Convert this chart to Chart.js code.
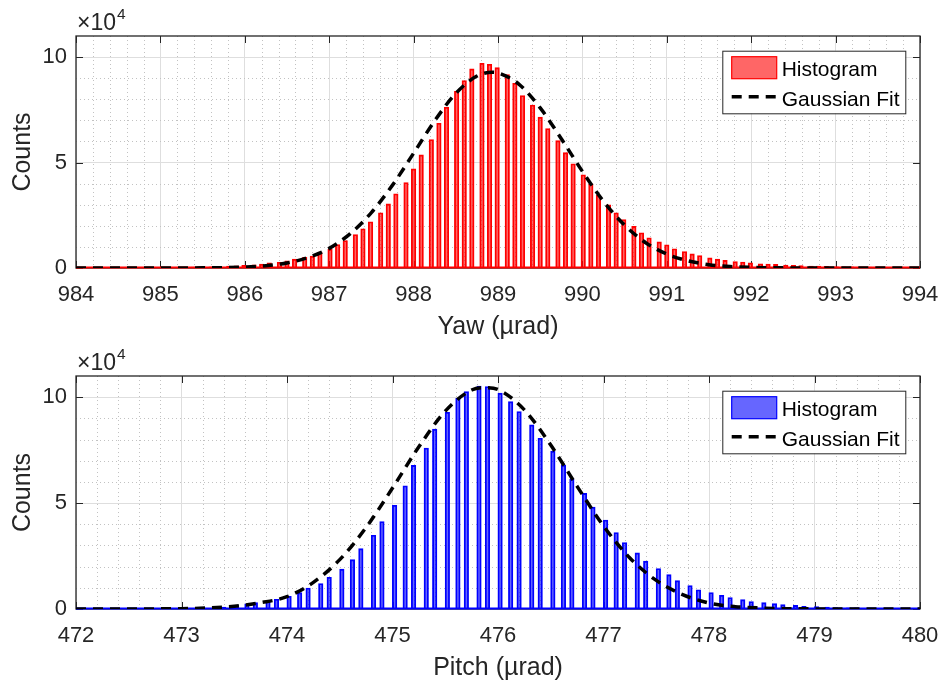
<!DOCTYPE html>
<html>
<head>
<meta charset="utf-8">
<title>Yaw / Pitch histograms</title>
<script src="https://cdn.jsdelivr.net/npm/chart.js@4.4.1/dist/chart.umd.min.js"></script>
<style>
    body { margin: 0; background: #fff; }
    canvas { display: block; }
</style>
</head>
<body>
<canvas id="yawChart" width="943" height="340"></canvas>
<canvas id="pitchChart" width="943" height="343"></canvas>
<script>
// === Yaw histogram (bin centres in µrad, counts) ===
const yawBins = [
    984.91, 985.00, 985.09, 985.21, 985.30, 985.39, 985.51, 985.60, 985.69,
    985.81, 985.90, 985.99, 986.11, 986.20, 986.29, 986.41, 986.50, 986.59,
    986.71, 986.80, 986.89, 987.01, 987.10, 987.19, 987.31, 987.40, 987.49,
    987.61, 987.70, 987.79, 987.91, 988.00, 988.09, 988.21, 988.30, 988.39,
    988.51, 988.60, 988.69, 988.81, 988.90, 988.99, 989.11, 989.20, 989.29,
    989.41, 989.50, 989.59, 989.71, 989.80, 989.89, 990.01, 990.10, 990.19,
    990.31, 990.40, 990.49, 990.61, 990.70, 990.79, 990.91, 991.00, 991.09,
    991.21, 991.30, 991.39, 991.51, 991.60, 991.69, 991.81, 991.90, 991.99,
    992.11, 992.20, 992.29, 992.41, 992.50, 992.59, 992.71, 992.80, 992.89,
    993.01, 993.10, 993.19, 993.31, 993.40, 993.49, 993.61, 993.70, 993.79,
    993.91
];
const yawCounts = [
    200, 200, 300, 300, 400, 400, 500, 600, 700,
    900, 1000, 1300, 1500, 1800, 2400, 2700, 3400, 4200,
    5100, 5600, 7500, 8900, 11100, 13000, 15900, 18600, 21900,
    26200, 30400, 35200, 40500, 47000, 53600, 60900, 68600, 76200,
    83800, 88900, 94400, 97100, 96600, 95000, 91700, 87600, 81800,
    77300, 71500, 66100, 60400, 54700, 49400, 44200, 39900, 34400,
    30000, 26200, 23000, 19700, 16700, 14300, 12400, 11000, 9100,
    7800, 6700, 5900, 4800, 4200, 3600, 3000, 2800, 2400,
    2000, 1900, 1700, 1400, 1300, 1100, 900, 900, 800,
    600, 500, 500, 400, 400, 300, 300, 200, 200,
    200
];
const yawFitX = [
    984, 985, 985.5, 986, 986.25, 986.5, 986.75, 987, 987.25, 987.5, 987.75,
    988, 988.25, 988.5, 988.75, 988.93, 989, 989.25, 989.5, 989.75, 990,
    990.25, 990.5, 990.75, 991, 991.25, 991.5, 991.75, 992, 992.5, 993, 994
];
const yawFitCounts = [
    0, 10, 65, 460, 1100, 2400, 5000, 9300, 16300, 26300, 39300,
    54400, 69800, 82800, 91000, 92800, 92500, 87100, 75900, 61300, 45800,
    31600, 20300, 12000, 6600, 3400, 1570, 690, 280, 40, 0, 0
];
const yawTicks = [984, 985, 986, 987, 988, 989, 990, 991, 992, 993, 994];

// === Pitch histogram ===
const pitchBins = [
    472.40, 472.52, 472.62, 472.70, 472.82, 472.90, 473.02, 473.12, 473.20, 473.32,
    473.40, 473.52, 473.62, 473.70, 473.82, 473.90, 474.02, 474.12, 474.20, 474.32,
    474.40, 474.52, 474.62, 474.70, 474.82, 474.90, 475.02, 475.12, 475.20, 475.32,
    475.40, 475.52, 475.62, 475.70, 475.82, 475.90, 476.02, 476.12, 476.20, 476.32,
    476.40, 476.52, 476.62, 476.70, 476.82, 476.90, 477.02, 477.12, 477.20, 477.32,
    477.40, 477.52, 477.62, 477.70, 477.82, 477.90, 478.02, 478.12, 478.20, 478.32,
    478.40, 478.52, 478.62, 478.70, 478.82, 478.90, 479.02, 479.12, 479.20, 479.32,
    479.40, 479.52, 479.62, 479.70, 479.82, 479.90
];
const pitchCounts = [
    100, 100, 100, 100, 100, 200, 300, 300, 400, 600,
    900, 1700, 2400, 3000, 3800, 4600, 6000, 7700, 9900, 12000,
    15000, 18800, 23300, 28500, 34800, 41300, 49000, 58200, 67800, 76000,
    84900, 92900, 99400, 102700, 105300, 105000, 101900, 97900, 93200, 86900,
    80600, 74500, 67900, 61300, 54600, 48100, 42000, 36100, 31400, 26500,
    22600, 19100, 16200, 13400, 11100, 9100, 7800, 6500, 5400, 4400,
    3500, 3000, 2500, 2100, 1700, 1300, 1100, 900, 700, 600,
    500, 400, 300, 300, 200, 200
];
const pitchFitX = [
    472, 472.5, 473, 473.25, 473.5, 473.75, 474, 474.25, 474.5, 474.75,
    475, 475.25, 475.5, 475.75, 475.88, 476, 476.25, 476.5, 476.75, 477,
    477.25, 477.5, 477.75, 478, 478.25, 478.5, 478.75, 479, 479.5, 480
];
const pitchFitCounts = [
    0, 14, 160, 470, 1250, 3000, 5800, 12600, 23300, 38500,
    57100, 76600, 93400, 103400, 104500, 103600, 94000, 77400, 57900, 39200,
    24100, 13500, 6800, 2800, 1100, 450, 150, 50, 0, 0
];
const pitchTicks = [472, 473, 474, 475, 476, 477, 478, 479, 480];

const countRange = [0, 110000];
const countTicks = [0, 50000, 100000];
const countScale = 1e4;

const FONT = '"Liberation Sans", Arial, Helvetica, sans-serif';
const INK = "#262626";

// Minor dotted grid, full box with inward ticks, zero line, legend and the x10^4 exponent
const matlabAxes = {
    id: "matlabAxes",
    beforeDatasetsDraw(chart, args, opts) {
        const { ctx, chartArea: a, scales: { x, y } } = chart;
        ctx.save();

        // minor grid: 5 divisions per major step on both axes
        ctx.strokeStyle = "#c2c2c2";
        ctx.lineWidth = 1;
        ctx.setLineDash([1, 3]);
        const nx = Math.round((x.max - x.min) / opts.xMinor);
        for (let i = 1; i < nx; i++) {
            if (i % 5 === 0) continue;
            const px = Math.round(x.getPixelForValue(x.min + i * opts.xMinor)) + 0.5;
            ctx.beginPath(); ctx.moveTo(px, a.top); ctx.lineTo(px, a.bottom); ctx.stroke();
        }
        const ny = Math.round((y.max - y.min) / opts.yMinor);
        for (let i = 1; i < ny; i++) {
            if (i % 5 === 0) continue;
            const py = Math.round(y.getPixelForValue(y.min + i * opts.yMinor)) + 0.5;
            ctx.beginPath(); ctx.moveTo(a.left, py); ctx.lineTo(a.right, py); ctx.stroke();
        }
        ctx.setLineDash([]);

        // axes box + inward ticks
        ctx.strokeStyle = INK;
        ctx.lineWidth = 1.3;
        ctx.strokeRect(a.left, a.top, a.right - a.left, a.bottom - a.top);
        ctx.lineWidth = 1;
        const tl = 7;
        x.ticks.forEach(t => {
            const px = Math.round(x.getPixelForValue(t.value)) + 0.5;
            ctx.beginPath();
            ctx.moveTo(px, a.top); ctx.lineTo(px, a.top + tl);
            ctx.moveTo(px, a.bottom); ctx.lineTo(px, a.bottom - tl);
            ctx.stroke();
        });
        y.ticks.forEach(t => {
            const py = Math.round(y.getPixelForValue(t.value)) + 0.5;
            ctx.beginPath();
            ctx.moveTo(a.left, py); ctx.lineTo(a.left + tl, py);
            ctx.moveTo(a.right, py); ctx.lineTo(a.right - tl, py);
            ctx.stroke();
        });

        // empty bins leave their edge along the zero line
        const y0 = y.getPixelForValue(0);
        ctx.strokeStyle = opts.edge;
        ctx.lineWidth = 2;
        ctx.beginPath(); ctx.moveTo(a.left, y0 - 0.5); ctx.lineTo(a.right, y0 - 0.5); ctx.stroke();
        ctx.restore();
    },
    afterDraw(chart, args, opts) {
        const { ctx, chartArea: a } = chart;
        ctx.save();

        // exponent above the y axis
        ctx.fillStyle = INK;
        ctx.textBaseline = "alphabetic";
        ctx.font = `23px ${FONT}`;
        ctx.fillText("\u00d710", a.left + 1, a.top - 6);
        const w = ctx.measureText("\u00d710").width;
        ctx.font = `15.5px ${FONT}`;
        ctx.fillText("4", a.left + 1 + w + 1, a.top - 17);

        // legend
        const bw = 183, bh = 62.6;
        const bx = a.right - 14.7 - bw, by = a.top + 14.7;
        ctx.fillStyle = "#fff";
        ctx.fillRect(bx, by, bw, bh);
        ctx.strokeStyle = INK;
        ctx.lineWidth = 1;
        ctx.strokeRect(bx + 0.5, by + 0.5, bw, bh);

        ctx.fillStyle = opts.fill;
        ctx.fillRect(bx + 9.4, by + 6, 45, 22);
        ctx.strokeStyle = opts.edge;
        ctx.lineWidth = 1.2;
        ctx.strokeRect(bx + 9.4, by + 6, 45, 22);

        ctx.strokeStyle = "#000";
        ctx.lineWidth = 3.5;
        ctx.setLineDash([10, 7]);
        ctx.beginPath(); ctx.moveTo(bx + 9.4, by + 46); ctx.lineTo(bx + 54.4, by + 46); ctx.stroke();
        ctx.setLineDash([]);

        ctx.fillStyle = "#000";
        ctx.font = `21px ${FONT}`;
        ctx.fillText("Histogram", bx + 59.4, by + 25.3);
        ctx.fillText("Gaussian Fit", bx + 59.4, by + 55.3);
        ctx.restore();
    }
};

function makeChart(canvasId, o) {
    return new Chart(document.getElementById(canvasId), {
        type: "bar",
        data: {
            datasets: [
                {
                    type: "bar",
                    label: "Histogram",
                    data: o.bins.map((b, i) => ({ x: b, y: o.counts[i] })),
                    backgroundColor: o.fill,
                    borderColor: o.edge,
                    borderWidth: 1.2,
                    barThickness: 4.5,
                    order: 2
                },
                {
                    type: "line",
                    label: "Gaussian Fit",
                    data: o.fitX.map((v, i) => ({ x: v, y: o.fitCounts[i] })),
                    borderColor: "#000",
                    borderWidth: 3.5,
                    borderDash: [10, 7],
                    pointRadius: 0,
                    cubicInterpolationMode: "monotone",
                    fill: false,
                    order: 1
                }
            ]
        },
        options: {
            responsive: false,
            animation: false,
            layout: { padding: { top: 36, right: 23, bottom: 0, left: 0 } },
            plugins: {
                legend: { display: false },
                tooltip: { enabled: false },
                matlabAxes: { xMinor: 0.2, yMinor: 1e4, fill: o.fill, edge: o.edge }
            },
            scales: {
                x: {
                    type: "linear",
                    min: o.ticks[0],
                    max: o.ticks[o.ticks.length - 1],
                    offset: false,
                    afterBuildTicks: s => { s.ticks = o.ticks.map(v => ({ value: v })); },
                    afterFit: s => {
                        s.height = o.xAxisHeight;
                        s.paddingLeft = 0;
                        s.paddingRight = 0;
                    },
                    grid: { color: "#dedede", drawTicks: false, offset: false },
                    border: { display: false },
                    ticks: {
                        color: INK,
                        font: { family: FONT, size: 22 },
                        padding: 14,
                        maxRotation: 0,
                        autoSkip: false,
                        callback: v => String(v)
                    },
                    title: {
                        display: true,
                        text: o.title,
                        color: INK,
                        font: { family: FONT, size: 25, lineHeight: 1 },
                        padding: { top: 0, bottom: o.titlePad }
                    }
                },
                y: {
                    min: countRange[0],
                    max: countRange[1],
                    afterBuildTicks: s => { s.ticks = countTicks.map(v => ({ value: v })); },
                    afterFit: s => { s.width = 76; },
                    grid: { color: "#dedede", drawTicks: false },
                    border: { display: false },
                    ticks: {
                        color: INK,
                        font: { family: FONT, size: 22 },
                        padding: 9,
                        callback: v => String(v / countScale)
                    },
                    title: {
                        display: true,
                        text: "Counts",
                        color: INK,
                        font: { family: FONT, size: 25, lineHeight: 1 },
                        padding: { top: 11, bottom: 0 }
                    }
                }
            }
        },
        plugins: [matlabAxes]
    });
}

makeChart("yawChart", {
    bins: yawBins, counts: yawCounts,
    fitX: yawFitX, fitCounts: yawFitCounts,
    ticks: yawTicks,
    title: "Yaw (\u00b5rad)",
    fill: "rgba(255, 0, 0, 0.6)", edge: "#ff0000",
    xAxisHeight: 72, titlePad: 0.5
});

makeChart("pitchChart", {
    bins: pitchBins, counts: pitchCounts,
    fitX: pitchFitX, fitCounts: pitchFitCounts,
    ticks: pitchTicks,
    title: "Pitch (\u00b5rad)",
    fill: "rgba(0, 0, 255, 0.6)", edge: "#0000ff",
    xAxisHeight: 74, titlePad: 2
});
</script>
</body>
</html>
